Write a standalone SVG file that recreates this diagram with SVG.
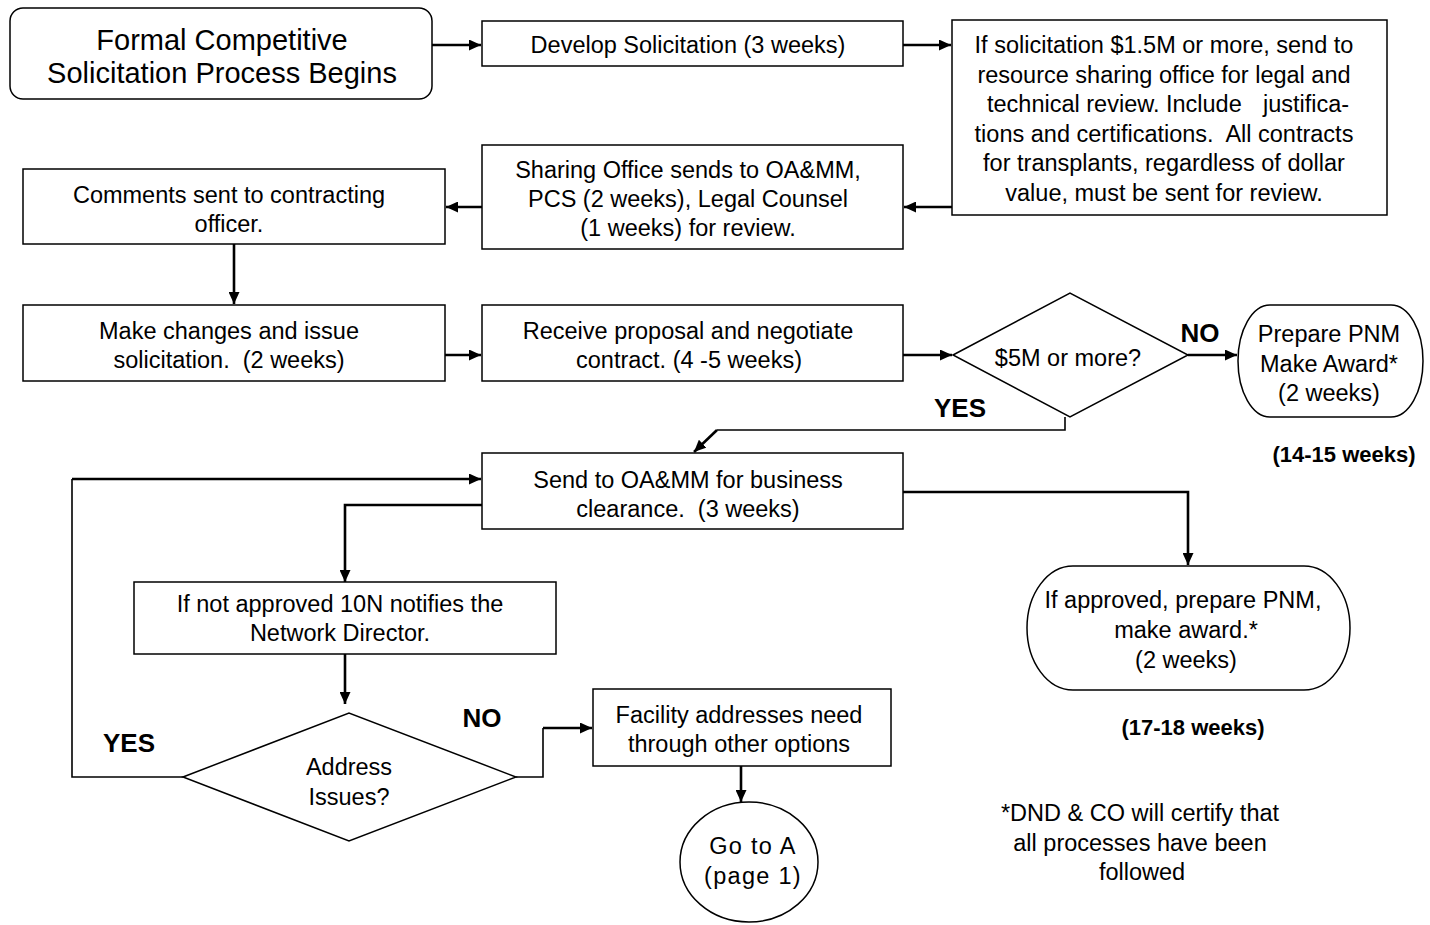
<svg xmlns="http://www.w3.org/2000/svg" width="1430" height="925" viewBox="0 0 1430 925">
<style>
.bx{fill:#fff;stroke:#000;stroke-width:1.5}
.t{font-family:"Liberation Sans",Arial,sans-serif;font-size:23.5px;fill:#000;text-anchor:middle}
.b{font-family:"Liberation Sans",Arial,sans-serif;font-weight:bold;fill:#000;text-anchor:middle}
.c{fill:none;stroke:#000;stroke-width:2.6}
.cn{fill:none;stroke:#000;stroke-width:1.6}
</style>
<defs>
<marker id="ah" markerUnits="userSpaceOnUse" markerWidth="13" markerHeight="11" refX="12" refY="5.5" orient="auto">
<path d="M0,0 L12,5.5 L0,11 z" fill="#000"/>
</marker>
</defs>
<rect width="1430" height="925" fill="#fff"/>
<g id="connectors">
<path class="c" d="M432,45 H481" marker-end="url(#ah)"/>
<path class="c" d="M903,45 H951" marker-end="url(#ah)"/>
<path class="c" d="M952,207 H904" marker-end="url(#ah)"/>
<path class="c" d="M482,207 H446" marker-end="url(#ah)"/>
<path class="c" d="M234,244 V304" marker-end="url(#ah)"/>
<path class="c" d="M445,355 H481" marker-end="url(#ah)"/>
<path class="c" d="M903,355 H952" marker-end="url(#ah)"/>
<path class="c" d="M1188,355 H1237" marker-end="url(#ah)"/>
<path class="cn" d="M1065,417 V430 H717"/>
<path class="c" d="M717,430 L694,452" marker-end="url(#ah)"/>
<path class="c" d="M482,505 H345 V582" marker-end="url(#ah)"/>
<path class="c" d="M345,654 V704" marker-end="url(#ah)"/>
<path class="cn" d="M183,777 H72 V479"/>
<path class="c" d="M72,479 H481" marker-end="url(#ah)"/>
<path class="cn" d="M516,777 H543 V728"/>
<path class="c" d="M543,728 H592" marker-end="url(#ah)"/>
<path class="c" d="M741,766 V802" marker-end="url(#ah)"/>
<path class="c" d="M903,492 H1188 V565" marker-end="url(#ah)"/>
</g>
<g id="start">
<rect class="bx" x="10" y="8" width="422" height="91" rx="13"/>
<text class="t" style="font-size:29px" x="222" y="50">Formal Competitive</text>
<text class="t" style="font-size:29px" x="222" y="83">Solicitation Process Begins</text>
</g>
<g id="develop">
<rect class="bx" x="482" y="21" width="421" height="45"/>
<text class="t" x="688" y="53">Develop Solicitation (3 weeks)</text>
</g>
<g id="review">
<rect class="bx" x="952" y="20" width="435" height="195"/>
<text class="t" x="1164" y="53">If solicitation $1.5M or more, send to</text>
<text class="t" x="1164" y="83">resource sharing office for legal and</text>
<text class="t" style="text-anchor:start" x="987" y="112">technical review. Include</text>
<text class="t" style="text-anchor:start" x="1263" y="112">justifica-</text>
<text class="t" x="1164" y="142" xml:space="preserve">tions and certifications.  All contracts</text>
<text class="t" x="1164" y="171">for transplants, regardless of dollar</text>
<text class="t" x="1164" y="201">value, must be sent for review.</text>
</g>
<g id="sharing">
<rect class="bx" x="482" y="145" width="421" height="104"/>
<text class="t" x="688" y="178">Sharing Office sends to OA&amp;MM,</text>
<text class="t" x="688" y="207">PCS (2 weeks), Legal Counsel</text>
<text class="t" x="688" y="236">(1 weeks) for review.</text>
</g>
<g id="comments">
<rect class="bx" x="23" y="169" width="422" height="75"/>
<text class="t" x="229" y="203">Comments sent to contracting</text>
<text class="t" x="229" y="232">officer.</text>
</g>
<g id="make">
<rect class="bx" x="23" y="305" width="422" height="76"/>
<text class="t" x="229" y="339">Make changes and issue</text>
<text class="t" x="229" y="368" xml:space="preserve">solicitation.  (2 weeks)</text>
</g>
<g id="receive">
<rect class="bx" x="482" y="305" width="421" height="76"/>
<text class="t" x="688" y="339">Receive proposal and negotiate</text>
<text class="t" x="689" y="368">contract. (4 -5 weeks)</text>
</g>
<g id="decision5m">
<polygon class="bx" points="953,355 1070,293 1188,355 1070,417"/>
<text class="t" x="1068" y="366">$5M or more?</text>
</g>
<g id="pnm1">
<rect class="bx" x="1238" y="305" width="185" height="112" rx="32" ry="56"/>
<text class="t" x="1329" y="342">Prepare PNM</text>
<text class="t" x="1329" y="372">Make Award*</text>
<text class="t" x="1329" y="401">(2 weeks)</text>
</g>
<g id="labels">
<text class="b" style="font-size:26px" x="1200" y="342">NO</text>
<text class="b" style="font-size:26px" x="960" y="417">YES</text>
<text class="b" style="font-size:22px" x="1344" y="462">(14-15 weeks)</text>
<text class="b" style="font-size:26px" x="129" y="752">YES</text>
<text class="b" style="font-size:26px" x="482" y="727">NO</text>
<text class="b" style="font-size:22px" x="1193" y="735">(17-18 weeks)</text>
</g>
<g id="business">
<rect class="bx" x="482" y="453" width="421" height="76"/>
<text class="t" x="688" y="488">Send to OA&amp;MM for business</text>
<text class="t" x="688" y="517" xml:space="preserve">clearance.  (3 weeks)</text>
</g>
<g id="notapproved">
<rect class="bx" x="134" y="582" width="422" height="72"/>
<text class="t" x="340" y="612">If not approved 10N notifies the</text>
<text class="t" x="340" y="641">Network Director.</text>
</g>
<g id="address">
<polygon class="bx" points="183,777 349,713 516,777 349,841"/>
<text class="t" x="349" y="775">Address</text>
<text class="t" x="349" y="805">Issues?</text>
</g>
<g id="facility">
<rect class="bx" x="593" y="689" width="298" height="77"/>
<text class="t" x="739" y="723">Facility addresses need</text>
<text class="t" x="739" y="752">through other options</text>
</g>
<g id="gotoA">
<ellipse class="bx" cx="749" cy="862" rx="69" ry="60"/>
<text class="t" style="letter-spacing:1.3px" x="753" y="854">Go to A</text>
<text class="t" style="letter-spacing:1.3px" x="753" y="884">(page 1)</text>
</g>
<g id="pnm2">
<rect class="bx" x="1027" y="566" width="323" height="124" rx="46" ry="62"/>
<text class="t" x="1183" y="608">If approved, prepare PNM,</text>
<text class="t" x="1186" y="638">make award.*</text>
<text class="t" x="1186" y="668">(2 weeks)</text>
</g>
<g id="footnote">
<text class="t" x="1140" y="821">*DND &amp; CO will certify that</text>
<text class="t" x="1140" y="851">all processes have been</text>
<text class="t" x="1142" y="880">followed</text>
</g>
</svg>
